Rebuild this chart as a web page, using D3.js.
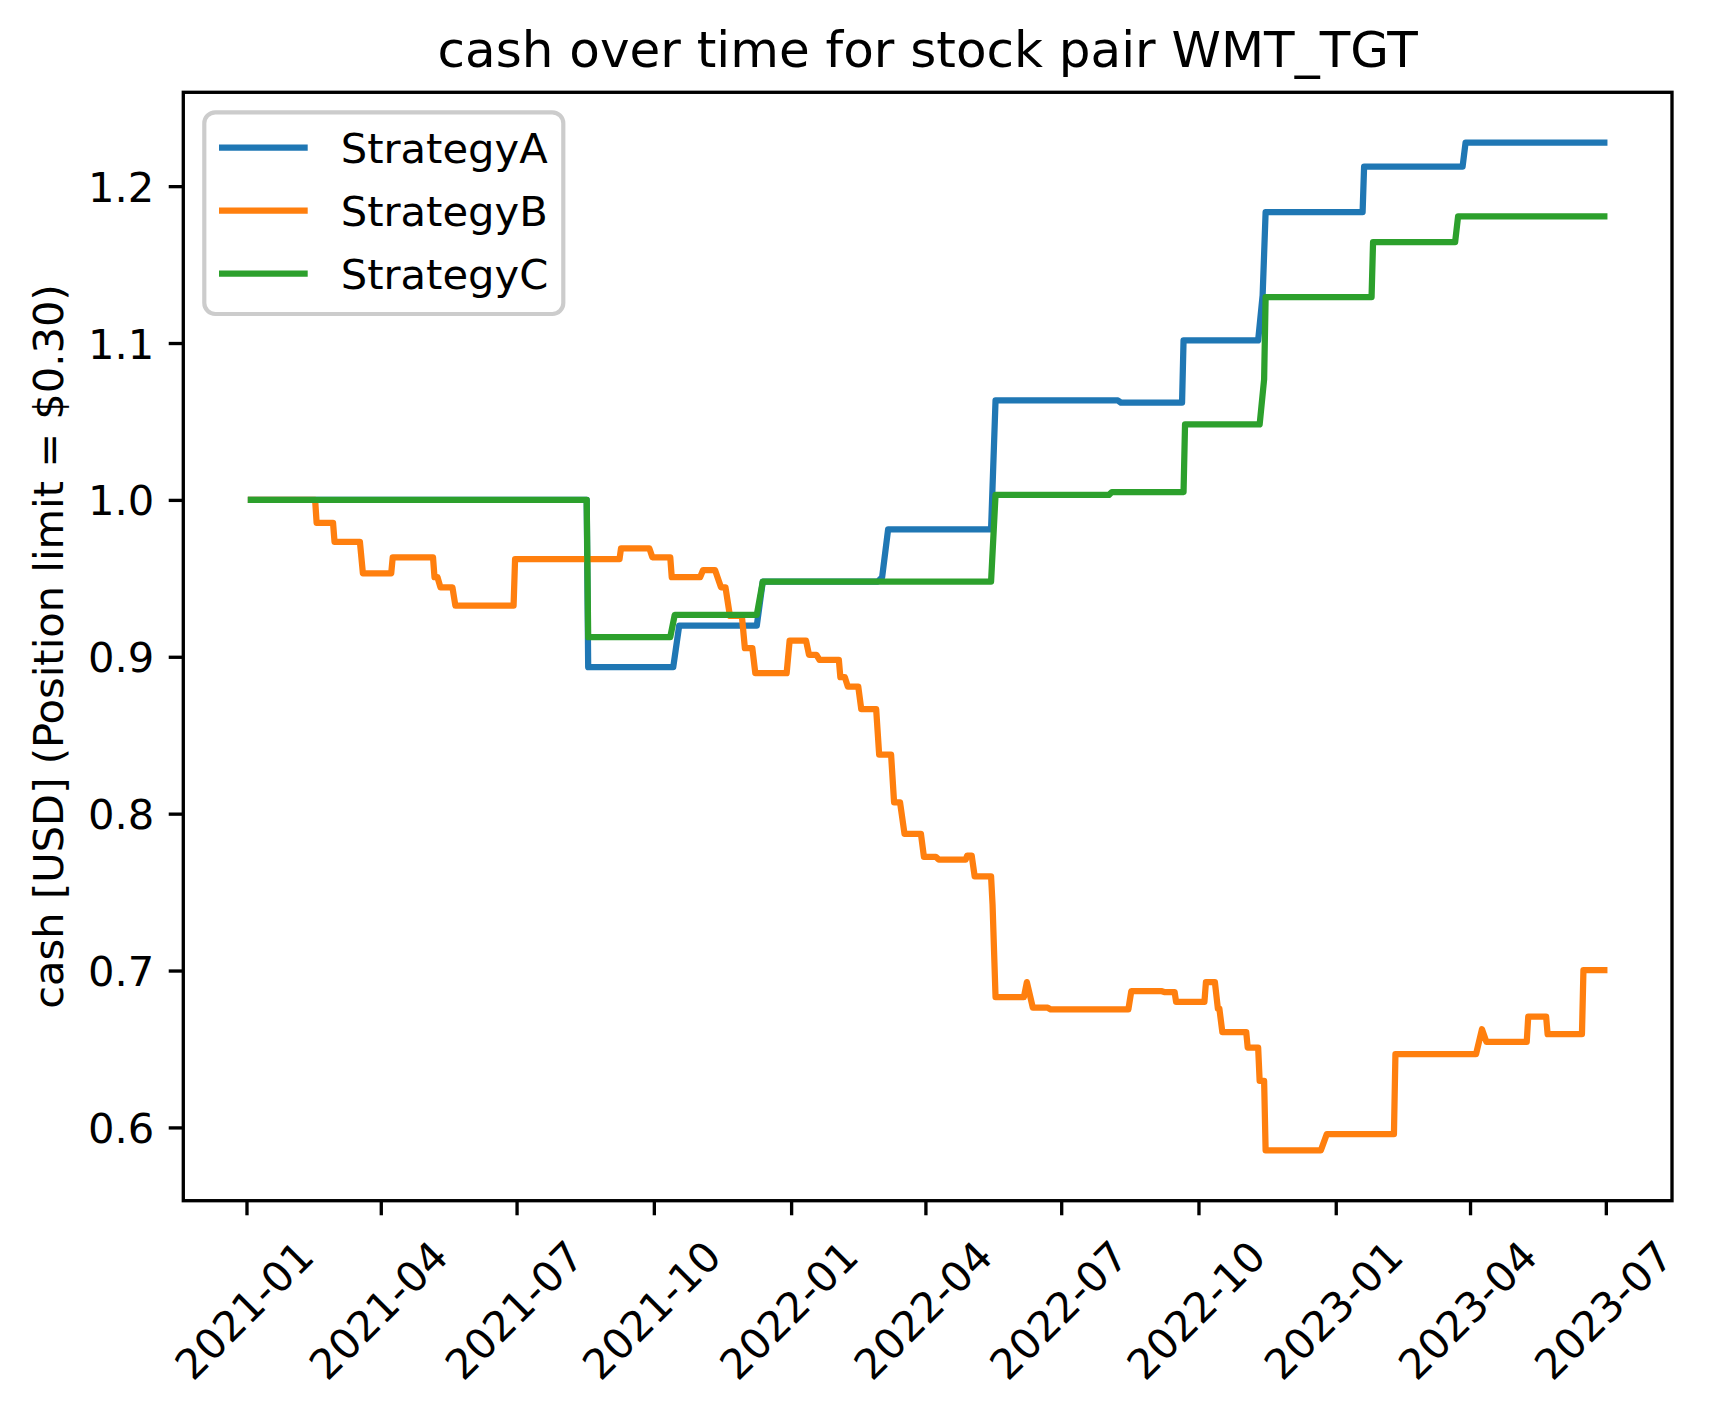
<!DOCTYPE html>
<html lang="en">
  <head>
    <meta charset="UTF-8" />
    <title>cash over time for stock pair WMT_TGT</title>
    <style>
      body { margin: 0; background: #fff; }
      text { font-family: "DejaVu Sans", sans-serif; fill: #000; }
    </style>
  </head>
  <body>
    <script src="https://d3js.org/d3.v7.min.js"></script>
    <script>
      const seriesNames = ["StrategyA", "StrategyB", "StrategyC"];
      const seriesColors = ["#1f77b4", "#ff7f0e", "#2ca02c"];

      // StrategyA
      const datesA = [
        "2021-01-04", "2021-08-17", "2021-08-18", "2021-10-14", "2021-10-18",
        "2021-12-09", "2021-12-13", "2022-02-28", "2022-03-03", "2022-03-07",
        "2022-05-15", "2022-05-18", "2022-08-08", "2022-08-10", "2022-09-20",
        "2022-09-21", "2022-11-10", "2022-11-13", "2022-11-15", "2023-01-19",
        "2023-01-20", "2023-03-27", "2023-03-29", "2023-06-30",
      ];
      const valuesA = [
        1.0, 1.0, 0.8934, 0.8934, 0.9199,
        0.9199, 0.9479, 0.9479, 0.9507, 0.9812,
        0.9812, 1.0634, 1.0634, 1.062, 1.062,
        1.1017, 1.1017, 1.1304, 1.1834, 1.1834,
        1.2125, 1.2125, 1.2277, 1.2277,
      ];

      // StrategyB
      const datesB = [
        "2021-01-04", "2021-02-16", "2021-02-17", "2021-02-28", "2021-03-01",
        "2021-03-18", "2021-03-20", "2021-04-08", "2021-04-09", "2021-05-06",
        "2021-05-07", "2021-05-09", "2021-05-11", "2021-05-19", "2021-05-21",
        "2021-06-29", "2021-06-30", "2021-09-08", "2021-09-09", "2021-09-28",
        "2021-09-30", "2021-10-12", "2021-10-13", "2021-11-01", "2021-11-03",
        "2021-11-11", "2021-11-15", "2021-11-18", "2021-11-21", "2021-11-29",
        "2021-12-01", "2021-12-06", "2021-12-08", "2021-12-29", "2021-12-31",
        "2022-01-11", "2022-01-13", "2022-01-18", "2022-01-20", "2022-02-02",
        "2022-02-03", "2022-02-06", "2022-02-08", "2022-02-15", "2022-02-17",
        "2022-02-27", "2022-03-01", "2022-03-09", "2022-03-11", "2022-03-15",
        "2022-03-18", "2022-03-29", "2022-03-31", "2022-04-08", "2022-04-10",
        "2022-04-28", "2022-04-29", "2022-05-02", "2022-05-04", "2022-05-15",
        "2022-05-16", "2022-05-18", "2022-06-06", "2022-06-08", "2022-06-12",
        "2022-06-22", "2022-06-24", "2022-08-15", "2022-08-17", "2022-09-06",
        "2022-09-08", "2022-09-15", "2022-09-16", "2022-10-05", "2022-10-06",
        "2022-10-12", "2022-10-14", "2022-10-15", "2022-10-17", "2022-11-02",
        "2022-11-03", "2022-11-10", "2022-11-11", "2022-11-14", "2022-11-15",
        "2022-12-22", "2022-12-26", "2023-02-09", "2023-02-10", "2023-04-05",
        "2023-04-09", "2023-04-12", "2023-05-09", "2023-05-10", "2023-05-22",
        "2023-05-23", "2023-06-15", "2023-06-16", "2023-06-30",
      ];
      const valuesB = [
        1.0, 1.0, 0.9854, 0.9854, 0.9733,
        0.9733, 0.9532, 0.9532, 0.9634, 0.9634,
        0.9507, 0.9507, 0.9443, 0.9443, 0.9326,
        0.9326, 0.9623, 0.9623, 0.9691, 0.9691,
        0.9634, 0.9634, 0.9507, 0.9507, 0.9553,
        0.9553, 0.9443, 0.9443, 0.926, 0.926,
        0.9055, 0.9055, 0.8896, 0.8896, 0.9103,
        0.9103, 0.9012, 0.9012, 0.898, 0.898,
        0.887, 0.887, 0.881, 0.881, 0.8666,
        0.8666, 0.8376, 0.8376, 0.8072, 0.8072,
        0.7871, 0.7871, 0.7724, 0.7724, 0.7707,
        0.7707, 0.7733, 0.7733, 0.7601, 0.7601,
        0.742, 0.6831, 0.6831, 0.6926, 0.6763,
        0.6763, 0.6752, 0.6752, 0.6869, 0.6869,
        0.6863, 0.6863, 0.6801, 0.6801, 0.6926,
        0.6926, 0.6757, 0.6757, 0.6608, 0.6608,
        0.6509, 0.6509, 0.6296, 0.6296, 0.5854,
        0.5854, 0.5957, 0.5957, 0.6467, 0.6467,
        0.6626, 0.6545, 0.6545, 0.6706, 0.6706,
        0.6594, 0.6594, 0.7003, 0.7003,
      ];

      // StrategyC
      const datesC = [
        "2021-01-04", "2021-08-17", "2021-08-18", "2021-10-12", "2021-10-15",
        "2021-12-09", "2021-12-13", "2022-05-15", "2022-05-18", "2022-08-02",
        "2022-08-04", "2022-09-21", "2022-09-22", "2022-11-11", "2022-11-14",
        "2022-11-15", "2023-01-25", "2023-01-26", "2023-03-22", "2023-03-24",
        "2023-06-30",
      ];
      const valuesC = [
        1.0, 1.0, 0.9125, 0.9125, 0.9267,
        0.9267, 0.9479, 0.9479, 1.0032, 1.0032,
        1.005, 1.005, 1.0481, 1.0481, 1.0769,
        1.1293, 1.1293, 1.1643, 1.1643, 1.1808,
        1.1808,
      ];

      const yTicks = [0.6, 0.7, 0.8, 0.9, 1.0, 1.1, 1.2];
      const xTickLabels = [
        "2021-01", "2021-04", "2021-07", "2021-10", "2022-01", "2022-04",
        "2022-07", "2022-10", "2023-01", "2023-04", "2023-07",
      ];

      const width = 1712,
        height = 1413;
      const plotLeft = 183.3,
        plotRight = 1672,
        plotTop = 92.3,
        plotBottom = 1200.7;
      const pt = 300 / 72; // figure was saved at 300 dpi
      const fontSize = 10 * pt;

      const parseDay = d3.utcParse("%Y-%m-%d");
      const parseMonth = d3.utcParse("%Y-%m");

      const series = [
        { name: seriesNames[0], color: seriesColors[0], dates: datesA, values: valuesA },
        { name: seriesNames[1], color: seriesColors[1], dates: datesB, values: valuesB },
        { name: seriesNames[2], color: seriesColors[2], dates: datesC, values: valuesC },
      ].map((s) => ({
        ...s,
        points: s.dates.map((d, i) => [parseDay(d), s.values[i]]),
      }));

      // matplotlib style 5% margins
      const allDates = series.flatMap((s) => s.points.map((p) => p[0]));
      const allValues = series.flatMap((s) => s.values);
      const [d0, d1] = d3.extent(allDates);
      const padX = (d1 - d0) * 0.05;
      const [v0, v1] = d3.extent(allValues);
      const padY = (v1 - v0) * 0.05;

      const x = d3
        .scaleUtc()
        .domain([new Date(+d0 - padX), new Date(+d1 + padX)])
        .range([plotLeft, plotRight]);
      const y = d3
        .scaleLinear()
        .domain([v0 - padY, v1 + padY])
        .range([plotBottom, plotTop]);

      const svg = d3
        .select("body")
        .append("svg")
        .attr("width", width)
        .attr("height", height);

      svg.append("rect").attr("width", width).attr("height", height).attr("fill", "#fff");

      // title
      svg
        .append("text")
        .attr("x", (plotLeft + plotRight) / 2)
        .attr("y", 67)
        .attr("text-anchor", "middle")
        .attr("font-size", 12 * pt)
        .text("cash over time for stock pair WMT_TGT");

      // lines
      const line = d3
        .line()
        .x((d) => x(d[0]))
        .y((d) => y(d[1]));

      svg
        .append("g")
        .selectAll("path")
        .data(series)
        .join("path")
        .attr("d", (s) => line(s.points))
        .attr("fill", "none")
        .attr("stroke", (s) => s.color)
        .attr("stroke-width", 1.5 * pt)
        .attr("stroke-linejoin", "round")
        .attr("stroke-linecap", "square");

      // x axis
      const xAxis = svg
        .append("g")
        .attr("transform", `translate(0, ${plotBottom})`)
        .call(
          d3
            .axisBottom(x)
            .tickValues(xTickLabels.map(parseMonth))
            .tickFormat(d3.utcFormat("%Y-%m"))
            .tickSize(3.5 * pt)
        );
      xAxis.select(".domain").remove();
      xAxis.selectAll(".tick line").attr("stroke", "#000").attr("stroke-width", 0.8 * pt);
      xAxis
        .selectAll(".tick text")
        .attr("y", null)
        .attr("dy", "0.36em")
        .attr("text-anchor", "middle")
        .attr("font-size", fontSize)
        .attr("transform", `translate(-3, ${1310 - plotBottom}) rotate(-45)`);

      // y axis
      const yAxis = svg
        .append("g")
        .attr("transform", `translate(${plotLeft}, 0)`)
        .call(
          d3
            .axisLeft(y)
            .tickValues(yTicks)
            .tickFormat(d3.format(".1f"))
            .tickSize(3.5 * pt)
            .tickPadding(3.5 * pt)
        );
      yAxis.select(".domain").remove();
      yAxis.selectAll(".tick line").attr("stroke", "#000").attr("stroke-width", 0.8 * pt);
      yAxis.selectAll(".tick text").attr("font-size", fontSize).attr("dy", "0.36em");

      svg
        .append("text")
        .attr("transform", `translate(63, ${(plotTop + plotBottom) / 2}) rotate(-90)`)
        .attr("text-anchor", "middle")
        .attr("font-size", fontSize)
        .text("cash [USD] (Position limit = $0.30)");

      // spines
      svg
        .append("rect")
        .attr("x", plotLeft)
        .attr("y", plotTop)
        .attr("width", plotRight - plotLeft)
        .attr("height", plotBottom - plotTop)
        .attr("fill", "none")
        .attr("stroke", "#000")
        .attr("stroke-width", 0.8 * pt);

      // legend
      const legend = svg.append("g").attr("transform", "translate(204.3, 112.3)");
      legend
        .append("rect")
        .attr("width", 359)
        .attr("height", 201.7)
        .attr("rx", 11)
        .attr("fill", "#fff")
        .attr("fill-opacity", 0.8)
        .attr("stroke", "#cccccc")
        .attr("stroke-width", 1 * pt);

      const rowGap = 63;
      series.forEach((s, i) => {
        legend
          .append("line")
          .attr("x1", 14.7)
          .attr("x2", 103.4)
          .attr("y1", 35.4 + rowGap * i)
          .attr("y2", 35.4 + rowGap * i)
          .attr("stroke", s.color)
          .attr("stroke-width", 1.5 * pt);
        legend
          .append("text")
          .attr("x", 136.4)
          .attr("y", 51 + rowGap * i)
          .attr("font-size", fontSize)
          .text(s.name);
      });
    </script>
  </body>
</html>
